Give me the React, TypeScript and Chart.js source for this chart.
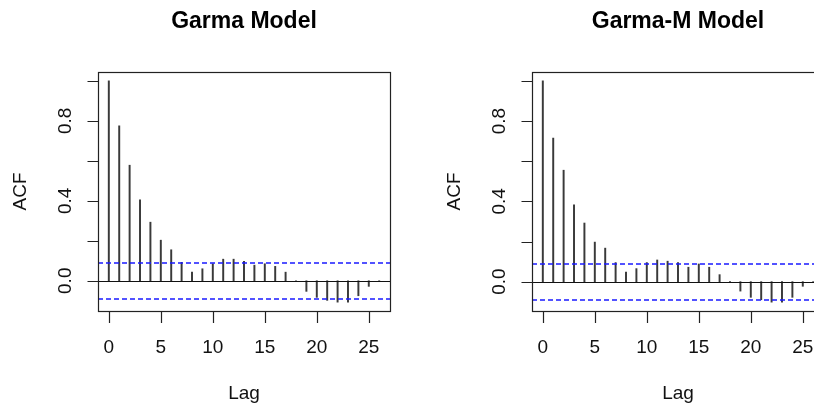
import React, { useEffect, useRef } from "react";
import { Chart, registerables } from "chart.js";

Chart.register(...registerables);

// ---- data ----
const lags = [0, 1, 2, 3, 4, 5, 6, 7, 8, 9, 10, 11, 12, 13, 14, 15, 16, 17, 18, 19, 20, 21, 22, 23, 24, 25, 26];
const garmaAcf = [1.0, 0.775, 0.578, 0.405, 0.293, 0.203, 0.155, 0.092, 0.043, 0.06, 0.085, 0.108, 0.108, 0.097, 0.078, 0.085, 0.072, 0.043, 0, -0.053, -0.083, -0.098, -0.107, -0.107, -0.075, -0.028, 0];
const garmaMAcf = [1.0, 0.715, 0.555, 0.382, 0.292, 0.197, 0.167, 0.095, 0.048, 0.065, 0.095, 0.108, 0.102, 0.095, 0.072, 0.088, 0.072, 0.035, 0, -0.047, -0.078, -0.09, -0.102, -0.102, -0.078, -0.023, 0];
const garmaClim = 0.09;
const garmaMClim = 0.09;
const xTicks = [0, 5, 10, 15, 20, 25];
const yTicks = [0, 0.2, 0.4, 0.6, 0.8, 1.0];
const yTickLabels = ["0.0", "", "0.4", "", "0.8", ""];
const titles = ["Garma Model", "Garma-M Model"];
const xLabel = "Lag";
const yLabel = "ACF";

const X_MIN = -1.04;
const X_MAX = 27.04;
const FONT = "'Liberation Sans', Arial, sans-serif";

const rStyle = {
  id: "rStyle",
  afterDatasetsDraw(chart: any, _args: any, opts: any) {
    // horizontal reference lines: zero line and +/- confidence limits
    const { ctx, chartArea: a, scales } = chart;
    const y = scales.y;
    ctx.save();
    ctx.beginPath();
    ctx.rect(a.left, a.top, a.right - a.left, a.bottom - a.top);
    ctx.clip();
    ctx.lineWidth = 1.2;
    const z = Math.round(y.getPixelForValue(0)) + 0.5;
    ctx.strokeStyle = "#111";
    ctx.beginPath();
    ctx.moveTo(a.left, z);
    ctx.lineTo(a.right, z);
    ctx.stroke();
    ctx.strokeStyle = "#1a1aff";
    ctx.lineWidth = 1.5;
    ctx.setLineDash([5, 3]);
    [opts.clim, -opts.clim].forEach((c: number) => {
      const py = Math.round(y.getPixelForValue(c));
      ctx.beginPath();
      ctx.moveTo(a.left, py);
      ctx.lineTo(a.right, py);
      ctx.stroke();
    });
    ctx.restore();
  },
  afterDraw(chart: any, _args: any, opts: any) {
    const { ctx, chartArea: a, scales } = chart;
    const x = scales.x;
    const y = scales.y;
    ctx.save();
    const L = Math.round(a.left) + 0.5;
    const R = Math.round(a.right) + 0.5;
    const T = Math.round(a.top) + 0.5;
    const B = Math.round(a.bottom) + 0.5;
    ctx.strokeStyle = "#222";
    ctx.lineWidth = 1.2;
    ctx.strokeRect(L, T, R - L, B - T);
    // ticks
    ctx.beginPath();
    xTicks.forEach((v) => {
      const px = Math.round(x.getPixelForValue(v)) + 0.5;
      ctx.moveTo(px, B);
      ctx.lineTo(px, B + 11.5);
    });
    yTicks.forEach((v) => {
      const py = Math.round(y.getPixelForValue(v)) + 0.5;
      ctx.moveTo(L, py);
      ctx.lineTo(L - 11, py);
    });
    ctx.stroke();
    // tick labels
    ctx.fillStyle = "#111";
    ctx.font = `19px ${FONT}`;
    ctx.textAlign = "center";
    ctx.textBaseline = "alphabetic";
    xTicks.forEach((v) => {
      ctx.fillText(String(v), x.getPixelForValue(v), a.bottom + 41.7);
    });
    yTicks.forEach((v, i) => {
      const lbl = yTickLabels[i];
      if (!lbl) return;
      ctx.save();
      ctx.translate(a.left - 26.6, y.getPixelForValue(v));
      ctx.rotate(-Math.PI / 2);
      ctx.fillText(lbl, 0, 0);
      ctx.restore();
    });
    // axis titles
    const cx = (a.left + a.right) / 2;
    const cy = (a.top + a.bottom) / 2;
    ctx.fillText(xLabel, cx, 398.6);
    ctx.save();
    ctx.translate(a.left - 71.6, cy);
    ctx.rotate(-Math.PI / 2);
    ctx.fillText(yLabel, 0, 0);
    ctx.restore();
    // title
    ctx.font = `bold 23px ${FONT}`;
    ctx.fillStyle = "#000";
    ctx.fillText(opts.title, cx, 27.5);
    ctx.restore();
  },
};

function AcfPanel({ title, values, clim, left }: { title: string; values: number[]; clim: number; left: number }) {
  const ref = useRef<HTMLCanvasElement | null>(null);
  useEffect(() => {
    if (!ref.current) return;
    const minV = Math.min(-clim, ...values);
    const maxV = 1;
    const ext = (maxV - minV) * 0.04;
    const chart = new Chart(ref.current, {
      type: "bar",
      data: {
        datasets: [
          {
            type: "bar",
            label: "ACF",
            data: lags.map((l, i) => ({ x: l, y: values[i] })),
            backgroundColor: "#3a3a3a",
            borderWidth: 0,
            barThickness: 1.3,
          } as any,
        ],
      },
      options: {
        responsive: false,
        animation: false,
        devicePixelRatio: 1,
        layout: { padding: { left: 98, top: 72, right: 44, bottom: 96 } },
        plugins: {
          legend: { display: false },
          tooltip: { enabled: false },
          rStyle: { title, clim },
        } as any,
        scales: {
          x: { type: "linear", min: X_MIN, max: X_MAX, display: false, offset: false },
          y: { type: "linear", min: minV - ext, max: maxV + ext, display: false },
        },
      },
      plugins: [rStyle],
    });
    return () => chart.destroy();
  }, [title, values, clim]);
  return (
    <canvas
      ref={ref}
      width={434}
      height={407}
      style={{ position: "absolute", left, top: 0, width: 434, height: 407 }}
    />
  );
}

export default function App() {
  return (
    <div
      style={{
        position: "fixed",
        left: 0,
        top: 0,
        width: 814,
        height: 407,
        overflow: "hidden",
        background: "#fff",
      }}
    >
      <AcfPanel title={titles[0]} values={garmaAcf} clim={garmaClim} left={0} />
      <AcfPanel title={titles[1]} values={garmaMAcf} clim={garmaMClim} left={434} />
    </div>
  );
}
